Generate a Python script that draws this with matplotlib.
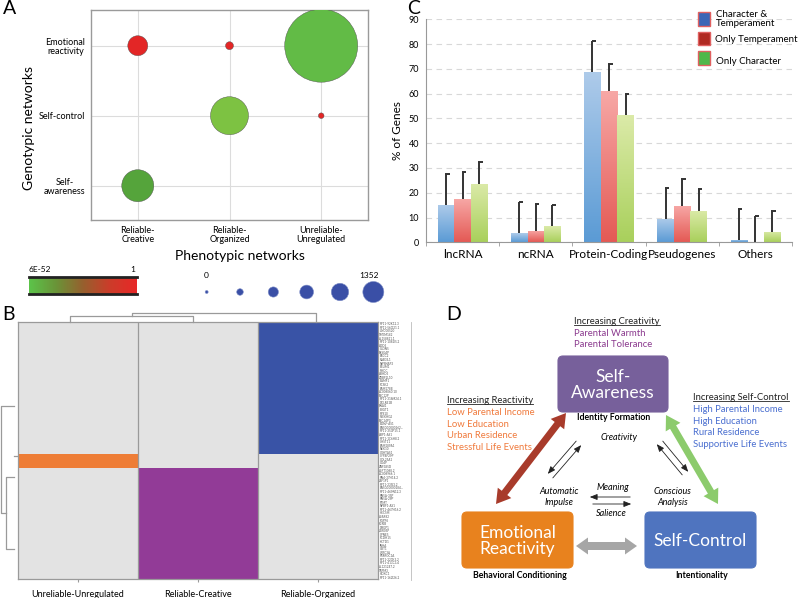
import numpy as np
import matplotlib
matplotlib.use('Agg')
import matplotlib.pyplot as plt
from matplotlib.colors import LinearSegmentedColormap, ListedColormap
from matplotlib.patches import Rectangle, FancyBboxPatch, Polygon

plt.rcParams['font.family'] = ['Lato', 'DejaVu Sans']

W, H = 798, 598

# ---------------- data ----------------
# Panel A
phenotypes = ['Reliable-\nCreative', 'Reliable-\nOrganized', 'Unreliable-\nUnregulated']
genotypes = ['Self-\nawareness', 'Self-control', 'Emotional\nreactivity']
bubble_pheno = [0, 1, 2, 1, 2, 0]
bubble_geno = [2, 2, 2, 1, 1, 0]
bubble_count = [101, 16, 1352, 366, 8, 260]
bubble_color = ['#e32626', '#e32626', '#62bb46', '#7dc242', '#e32626', '#55a43b']
pval_labels = ['6E-52', '1']
size_legend_vals = [0, 270, 541, 811, 1082, 1352]

# Panel B
clusters = ['Unreliable-Unregulated', 'Reliable-Creative', 'Reliable-Organized']
cluster_sizes = [37, 4, 31]           # rows belonging to each block (top to bottom)
cluster_order = [2, 0, 1]             # block -> column index
genes = ["RP11-92K12.3", "RP11-560I21.1", "LINC00520", "TMEM142", "AL158821.1",
         "RP11-1082I5.2", "ADD3", "CLDN5", "SRSG4P", "ERCC2", "RAB3IL1", "NIPSNAP3",
         "FBLIM1", "RHOC", "ABHD3", "ZDBF2L10", "BAMF1", "PCSK2", "FAM178B",
         "AC008060.10", "SEC12P", "RP11-318M24.1", "DCLRE1B", "SNAI1", "B3GT1",
         "RPS10", "PLEKHG2", "SEC14P3", "BDNF-AS1", "ENSG00000262...", "RP11-353P15.1",
         "ABP1-AS1", "RP11-1C6H8.2", "CHST11", "FAM189A1", "NEK10", "C4HTAS1",
         "CYP4F29P", "COL25A1", "CD4P", "ZNF385D", "ASFT1088.2", "AC008966.1",
         "RN4-37H14.2", "ZSF1P1", "RP11-235I3.2", "ENSG00000284...", "RP11-469N12.3",
         "RN5A-35P", "RN5A-29P", "FTMT", "NPBF1-AS1", "RP11-467H16.2", "HECSM",
         "ASAR82", "PGPP6", "SCRIB", "DRGP1", "ZUR05P", "CPNE5", "PCDH15", "KCTD1",
         "INHA", "GBT1", "LRRC3A", "PPARGC1A", "RP11-220K3.2", "RP11-413C3.4",
         "AL121247.2", "TRPM3", "HOXC1", "RP11-162I26.2"]

# Panel C
gene_types = ['lncRNA', 'ncRNA', 'Protein-Coding', 'Pseudogenes', 'Others']
series_names = ['Character &\nTemperament', 'Only Temperament', 'Only Character']
char_temp = [15.2, 3.6, 68.8, 9.3, 0.9]
only_temp = [17.6, 4.5, 61.1, 14.7, 0.0]
only_char = [23.7, 6.4, 51.2, 12.8, 4.1]
char_temp_err = [12.5, 12.8, 12.5, 12.7, 12.7]
only_temp_err = [10.9, 11.1, 10.9, 11.0, 10.8]
only_char_err = [8.6, 8.5, 8.8, 8.8, 8.6]

# ---------------- figure ----------------
fig = plt.figure(figsize=(W / 100, H / 100), dpi=100)
ax0 = fig.add_axes([0, 0, 1, 1])
ax0.set_xlim(0, W)
ax0.set_ylim(H, 0)
ax0.axis('off')
ax0.set_zorder(10)
ax0.patch.set_alpha(0)


def fa(x0, y0, x1, y1):
    return [x0 / W, 1 - y1 / H, (x1 - x0) / W, (y1 - y0) / H]


# ---------------- Panel A ----------------
axA = fig.add_axes(fa(91, 10, 368, 220))
max_d_pt = 73 * 0.72
sizes = [c / 1352 * max_d_pt ** 2 for c in bubble_count]
axA.scatter(bubble_pheno, bubble_geno, s=sizes, c=bubble_color,
            edgecolors='#4d4d4d', linewidths=0.3, zorder=3)
axA.set_xlim(-0.51, 2.51)
axA.set_ylim(-0.49, 2.51)
axA.set_xticks(range(3))
axA.set_xticklabels(phenotypes, fontsize=6.5, linespacing=1.1)
axA.set_yticks(range(3))
axA.set_yticklabels(genotypes, fontsize=6.5, linespacing=1.1, multialignment='center')
axA.tick_params(length=0, pad=4)
axA.grid(True, color='#dcdcdc', lw=0.8)
axA.set_axisbelow(True)
for s in axA.spines.values():
    s.set_color('#9a9a9a')
    s.set_linewidth(1.0)
ax0.text(29, 128, 'Genotypic networks', rotation=90, ha='center', va='center', fontsize=10)
ax0.text(240, 256, 'Phenotypic networks', ha='center', va='center', fontsize=10)
ax0.text(3, 9, 'A', fontsize=14, ha='left', va='center')

# colour bar
axCB = fig.add_axes(fa(29, 277, 137, 294))
cb_cmap = LinearSegmentedColormap.from_list('pv', ['#5cc44a', '#6a9438', '#96602e', '#cc3c2a', '#e82828'])
axCB.imshow(np.linspace(0, 1, 256).reshape(1, -1), cmap=cb_cmap, aspect='auto',
            extent=[0, 1, 0, 1])
axCB.set_xticks([])
axCB.set_yticks([])
for k, s in axCB.spines.items():
    s.set_visible(k in ('top', 'bottom'))
    s.set_linewidth(2.0)
    s.set_color('#222222')
ax0.text(40, 270, pval_labels[0], ha='center', va='center', fontsize=6)
ax0.text(133, 270, pval_labels[1], ha='center', va='center', fontsize=6)

# size legend
axSL = fig.add_axes(fa(190, 280, 390, 304))
axSL.set_xlim(-0.5, 5.5)
axSL.set_ylim(0, 1)
axSL.axis('off')
diam = [3 + 18 * v / 1352 for v in size_legend_vals]
axSL.scatter(range(len(size_legend_vals)), [0.5] * len(size_legend_vals),
             s=[(d * 0.72) ** 2 for d in diam], c='#3a4fa6', edgecolors='#8090c8', linewidths=0.4)
ax0.text(206, 275, str(size_legend_vals[0]), ha='center', va='center', fontsize=6)
ax0.text(369, 275, str(size_legend_vals[-1]), ha='center', va='center', fontsize=6)

# ---------------- Panel B ----------------
n_rows = sum(cluster_sizes)
mat = np.zeros((n_rows, 3))
r = 0
for blk, (sz, col) in enumerate(zip(cluster_sizes, cluster_order)):
    mat[r:r + sz, col] = col + 1
    r += sz
axB = fig.add_axes(fa(18, 322, 378, 579))
hm_cmap = ListedColormap(['#e3e3e3', '#ee7d36', '#923b97', '#3953a6'])
axB.imshow(mat, cmap=hm_cmap, vmin=-0.5, vmax=3.5, aspect='auto', interpolation='nearest')
for xb in [0.5, 1.5]:
    axB.axvline(xb, color='#9a9a9a', lw=0.9)
axB.set_xticks(range(3))
axB.set_xticklabels(clusters, fontsize=6.5)
axB.tick_params(axis='x', length=2, color='#9a9a9a', pad=6)
axB.yaxis.tick_right()
axB.set_yticks(range(n_rows))
axB.set_yticklabels(genes, fontsize=2.2, color='#555555')
axB.tick_params(axis='y', length=0, pad=1)
for s in axB.spines.values():
    s.set_color('#9a9a9a')
    s.set_linewidth(0.9)
ax0.plot([411, 411], [322, 580], color='#bbbbbb', lw=0.6)
# dendrograms
dk = dict(color='#9a9a9a', lw=0.9)
ax0.plot([70, 70, 193, 193], [322, 316, 316, 322], **dk)
ax0.plot([132, 132, 316, 316], [316, 313, 313, 322], **dk)
ax0.plot([14, 1, 1, 6], [405.7, 405.7, 512.7, 512.7], **dk)
ax0.plot([14, 6, 6, 14], [476.7, 476.7, 549.3, 549.3], **dk)
ax0.plot([14, 17], [456, 456], **dk)
ax0.text(2, 315, 'B', fontsize=14, ha='left', va='center')

# ---------------- Panel C ----------------
axC = fig.add_axes(fa(426, 19.3, 792, 242.3))
xc = np.arange(len(gene_types))
bw = 0.226
series = [char_temp, only_temp, only_char]
errs = [char_temp_err, only_temp_err, only_char_err]
grads = [('#5b9bd5', '#aecbea'), ('#e45a55', '#f7a8a6'), ('#a9d05c', '#dbeaa8')]
for i, (vals, er, (cb, ct)) in enumerate(zip(series, errs, grads)):
    pos = xc + (i - 1) * bw
    bars = axC.bar(pos, vals, width=bw, color='none', edgecolor='none', zorder=2)
    gcm = LinearSegmentedColormap.from_list('g%d' % i, [cb, ct])
    for b in bars:
        x, y = b.get_xy()
        w, h = b.get_width(), b.get_height()
        if h <= 0:
            continue
        im = axC.imshow(np.linspace(0, 1, 64).reshape(-1, 1), extent=[x, x + w, y, y + h],
                        origin='lower', cmap=gcm, aspect='auto', zorder=2)
        im.set_clip_path(b)
    tops = np.array(vals) + np.array(er)
    axC.vlines(pos, vals, tops, color='#333333', lw=1.4, zorder=3)
    axC.hlines(tops, pos - 0.01, pos + bw * 0.22, color='#333333', lw=1.4, zorder=3)
axC.set_xlim(-0.5, 4.5)
axC.set_ylim(0, 90)
axC.set_yticks(range(0, 91, 10))
axC.tick_params(axis='y', labelsize=6.5, length=0, pad=5)
axC.set_xticks(xc)
axC.set_xticklabels(gene_types, fontsize=8.5)
axC.set_xticks(np.arange(-0.5, 5, 1), minor=True)
axC.tick_params(axis='x', which='major', length=0, pad=5)
axC.tick_params(axis='x', which='minor', length=3, color='#999999')
axC.yaxis.grid(True, ls=(0, (5, 4)), color='#d8d8d8', lw=0.8)
axC.set_axisbelow(True)
for k, s in axC.spines.items():
    if k in ('top', 'right'):
        s.set_visible(False)
    else:
        s.set_color('#999999')
axC.set_ylabel('% of Genes', fontsize=8.5, labelpad=4)
ax0.text(407, 8, 'C', fontsize=14, ha='left', va='center')
leg_cols = ['#3b66b6', '#b02a22', '#4fb84a']
leg_y = [(12, 26), (32, 45), (51, 65)]
for col, (y0, y1) in zip(leg_cols, leg_y):
    ax0.add_patch(Rectangle((698, y0), 12, y1 - y0, facecolor=col, edgecolor='#e06060', lw=1))
ax0.text(716, 19, series_names[0], fontsize=7.0, ha='left', va='center', linespacing=1.05)
ax0.text(715, 39, series_names[1], fontsize=7.0, ha='left', va='center')
ax0.text(716, 62, series_names[2], fontsize=7.0, ha='left', va='center')

# ---------------- Panel D ----------------
ax0.text(446, 315, 'D', fontsize=14, ha='left', va='center')


def double_arrow(p0, p1, shaft, head_w, head_l, color):
    p0 = np.array(p0, float)
    p1 = np.array(p1, float)
    d = p1 - p0
    L = np.hypot(*d)
    u = d / L
    n = np.array([-u[1], u[0]])
    a = p0 + u * head_l
    b = p1 - u * head_l
    pts = [p0, a + n * head_w / 2, a + n * shaft / 2, b + n * shaft / 2, b + n * head_w / 2,
           p1, b - n * head_w / 2, b - n * shaft / 2, a - n * shaft / 2, a - n * head_w / 2]
    ax0.add_patch(Polygon(pts, closed=True, facecolor=color, edgecolor='none', zorder=3))


double_arrow((496, 504), (566, 413), 7, 17, 14, '#a83b2b')
double_arrow((666, 415), (718, 504), 7, 17, 14, '#8ccb6c')
double_arrow((576, 546), (637, 546), 8, 17, 12, '#a6a6a6')

boxes = [((558, 356, 668, 412), '#77609b', 'Self-\nAwareness'),
         ((462, 512, 573, 568), '#e8821e', 'Emotional\nReactivity'),
         ((645, 512, 756, 568), '#4f74bf', 'Self-Control')]
for (x0, y0, x1, y1), col, txt in boxes:
    ax0.add_patch(FancyBboxPatch((x0, y0), x1 - x0, y1 - y0,
                                 boxstyle='round,pad=0,rounding_size=5',
                                 facecolor=col, edgecolor=col, lw=0.8, zorder=3))
    ax0.text((x0 + x1) / 2, (y0 + y1) / 2 + 1, txt, ha='center', va='center', color='white',
             fontsize=12.5, linespacing=1.05, zorder=4)

bold_k = dict(fontsize=6.3, fontweight='bold', ha='center', va='center')
ax0.text(614, 417, 'Identity Formation', **bold_k)
ax0.text(520, 575, 'Behavioral Conditioning', **bold_k)
ax0.text(702, 575, 'Intentionality', **bold_k)

ital = dict(fontsize=6.5, style='italic', ha='center', va='center', linespacing=1.25)
ax0.text(619, 437, 'Creativity', **ital)
ax0.text(559, 497, 'Automatic\nImpulse', **ital)
ax0.text(673, 497, 'Conscious\nAnalysis', **ital)
ax0.text(613, 488, 'Meaning', **ital)
ax0.text(611, 513, 'Salience', **ital)

ak = dict(arrowstyle='-|>,head_length=0.45,head_width=0.18', color='#222222', lw=0.6)
for (xs, ys), (xe, ye) in [((551, 480), (583, 443)), ((578, 439), (546, 476)),
                           ((684, 477), (655, 442)), ((661, 439), (690, 474)),
                           ((633, 497), (587, 497)), ((590, 504), (634, 504))]:
    ax0.annotate('', xy=(xe, ye), xytext=(xs, ys), arrowprops=ak)

side_groups = [
    (574, 322, 'Increasing Creativity', '#8b3a8e', ['Parental Warmth', 'Parental Tolerance'], 11.2),
    (447, 400.5, 'Increasing Reactivity', '#f07a3c',
     ['Low Parental Income', 'Low Education', 'Urban Residence', 'Stressful Life Events'], 11.8),
    (693, 397.5, 'Increasing Self-Control', '#4a6fd0',
     ['High Parental Income', 'High Education', 'Rural Residence', 'Supportive Life Events'], 11.8),
]
heads = []
for x, y, head, col, lines, dy in side_groups:
    t = ax0.text(x, y, head, fontsize=6.8, ha='left', va='center', color='#222222')
    heads.append(t)
    for j, ln in enumerate(lines):
        ax0.text(x, y + dy * (j + 1), ln, fontsize=6.8, ha='left', va='center', color=col)

renderer = fig.canvas.get_renderer()
for t in heads:
    bb = t.get_window_extent(renderer)
    uy = H - bb.y0 - 1.5
    ax0.plot([bb.x0, bb.x1], [uy, uy], color='#222222', lw=0.6)

fig.savefig('out.png', dpi=100)
